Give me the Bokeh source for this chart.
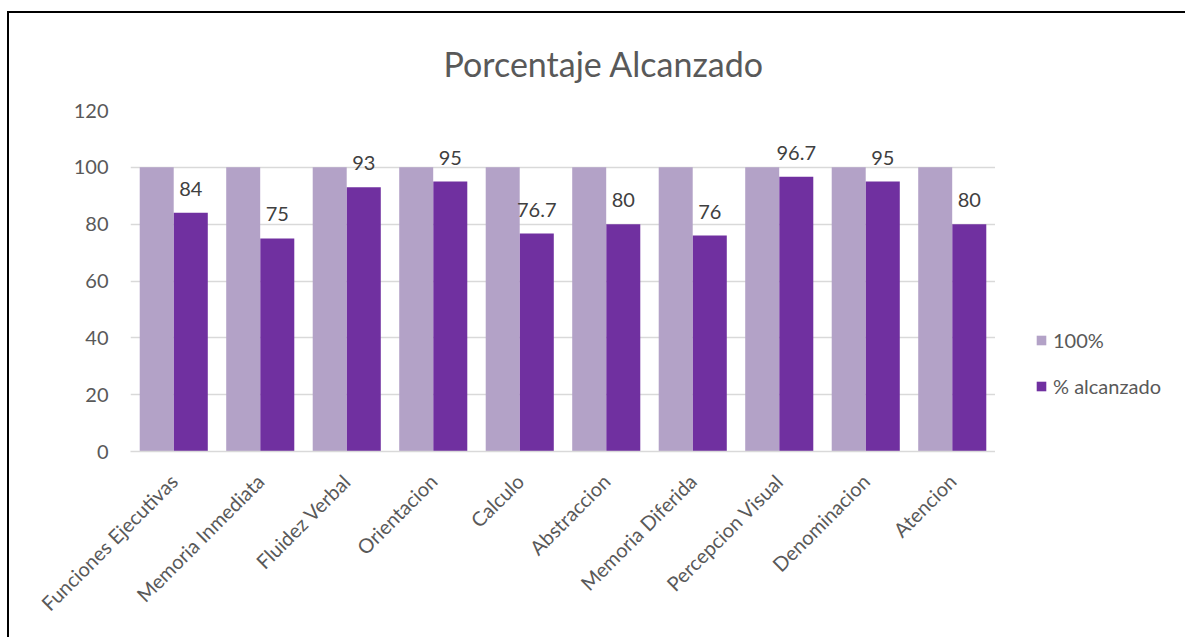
from math import pi
from bokeh.plotting import figure
from bokeh.layouts import row
from bokeh.models import (ColumnDataSource, Legend, LegendItem, LabelSet,
                          FactorRange, Range1d)
from bokeh.core.properties import value
from bokeh.transform import dodge
from bokeh.embed import file_html
from bokeh.resources import INLINE

categories = ["Funciones Ejecutivas", "Memoria Inmediata", "Fluidez Verbal",
              "Orientacion", "Calculo", "Abstraccion", "Memoria Diferida",
              "Percepcion Visual", "Denominacion", "Atencion"]
full_values = [100, 100, 100, 100, 100, 100, 100, 100, 100, 100]
reached_values = [84, 75, 93, 95, 76.7, 80, 76, 96.7, 95, 80]
reached_labels = ["84", "75", "93", "95", "76.7", "80", "76", "96.7", "95", "80"]
series_names = ["100%", "% alcanzado"]
series_colors = ["#b3a2c7", "#7030a0"]
y_ticks = [0, 20, 40, 60, 80, 100, 120]

FONT = "Lato"
TXT = "#595959"
FS = "20px"

src = ColumnDataSource(dict(cat=categories, full=full_values,
                            reached=reached_values, lbl=reached_labels))

p = figure(x_range=FactorRange(*categories), y_range=Range1d(0, 120),
           width=986, height=624, output_backend="svg", toolbar_location=None,
           min_border_left=121, min_border_right=0, min_border_top=97,
           min_border_bottom=186, title="Porcentaje Alcanzado")

p.title.align = "left"
p.title.offset = 313
p.title.standoff = 54
p.title.text_font = FONT
p.title.text_font_size = "34px"
p.title.text_font_style = "normal"
p.title.text_color = TXT

p.vbar(x=dodge("cat", -0.197, range=p.x_range), top="full", width=0.393,
       source=src, fill_color=series_colors[0], line_color=None)
p.vbar(x=dodge("cat", 0.197, range=p.x_range), top="reached", width=0.393,
       source=src, fill_color=series_colors[1], line_color=None)

labels = LabelSet(x=dodge("cat", 0.197, range=p.x_range), y="reached", text="lbl",
                  source=src, text_align="center", text_baseline="alphabetic",
                  y_offset=17, text_font_size=FS, text_color="#404040",
                  text_font=value(FONT))
p.add_layout(labels)

p.yaxis.ticker = y_ticks
p.yaxis.axis_line_color = None
p.yaxis.major_tick_line_color = None
p.yaxis.minor_tick_line_color = None
p.yaxis.major_label_text_font = FONT
p.yaxis.major_label_text_font_size = FS
p.yaxis.major_label_text_color = TXT
p.yaxis.major_label_standoff = 16

p.xaxis.axis_line_color = "#d9d9d9"
p.xaxis.axis_line_width = 1.5
p.xaxis.major_tick_line_color = None
p.xaxis.minor_tick_line_color = None
p.xaxis.major_label_orientation = pi / 4
p.xaxis.major_label_text_font = FONT
p.xaxis.major_label_text_font_size = FS
p.xaxis.major_label_text_color = TXT
p.xaxis.major_label_standoff = 20

p.xgrid.grid_line_color = None
p.ygrid.grid_line_color = "#d9d9d9"
p.ygrid.grid_line_width = 1.5
p.outline_line_color = None

# legend panel (separate figure; its frame is aligned with the main frame)
pl = figure(x_range=Range1d(0, 1), y_range=Range1d(0, 1), width=190, height=624,
            output_backend="svg", toolbar_location=None, min_border=0)
pl.axis.visible = False
pl.grid.visible = False
pl.outline_line_color = None
key_src = ColumnDataSource(dict(x=[0.5], top=[0]))
l1 = pl.vbar(x="x", top="top", width=0.01, source=key_src,
             fill_color=series_colors[0], line_color=None)
l2 = pl.vbar(x="x", top="top", width=0.01, source=key_src,
             fill_color=series_colors[1], line_color=None)

legend = Legend(items=[LegendItem(label=series_names[0], renderers=[l1]),
                       LegendItem(label=series_names[1], renderers=[l2])],
                location=(40, 53), orientation="vertical")
legend.label_text_font = FONT
legend.label_text_font_size = FS
legend.label_text_color = TXT
legend.glyph_width = 12
legend.glyph_height = 12
legend.label_height = 22
legend.spacing = 22
legend.label_standoff = 6
legend.padding = 0
legend.margin = 0
legend.border_line_color = None
legend.background_fill_alpha = 0
pl.add_layout(legend)

layout = row(p, pl, spacing=0)
layout.styles = {"margin-top": "11px", "margin-left": "7px",
                 "border-top": "2px solid black", "border-left": "2px solid black"}

open("out.html", "w").write(file_html(layout, INLINE))
